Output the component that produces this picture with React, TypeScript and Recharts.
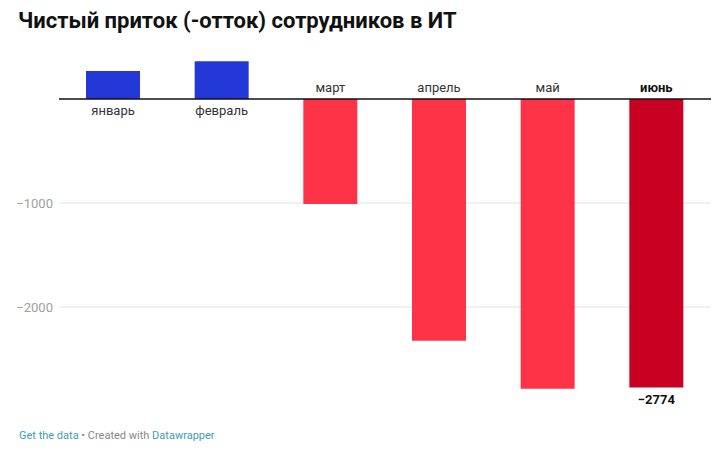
import { BarChart, Bar, XAxis, YAxis, CartesianGrid, ReferenceLine, LabelList, Cell } from 'recharts';

const months = ['январь', 'февраль', 'март', 'апрель', 'май', 'июнь'];
const netFlow = [270, 362, -1010, -2324, -2786, -2774];
const barColors = ['#2438d8', '#2438d8', '#ff3347', '#ff3347', '#ff3347', '#c80022'];
const yTicks = [-2000, -1000];
const highlightIndex = 5;

const data = months.map((month, i) => ({ month, value: netFlow[i] }));

const fmt = (v: number) => (v < 0 ? '\u2212' + Math.abs(v) : String(v));

// month name sits on the opposite side of the zero line from the bar
function MonthLabel(props: any) {
  const { x, y, width, height, value, index } = props;
  const top = Math.min(y, y + height);
  const bottom = Math.max(y, y + height);
  const zeroY = value >= 0 ? bottom : top;
  const ty = value >= 0 ? zeroY + 16 : zeroY - 7;
  const bold = index === highlightIndex;
  return (
    <text
      x={x + width / 2}
      y={ty}
      textAnchor="middle"
      fontFamily="Roboto, sans-serif"
      fontSize={13}
      fontWeight={bold ? 700 : 400}
      fill={bold ? '#111' : '#333'}
    >
      {months[index]}
    </text>
  );
}

function ValueLabel(props: any) {
  const { x, y, width, height, value, index } = props;
  if (index !== highlightIndex) return null;
  const bottom = Math.max(y, y + height);
  return (
    <text
      x={x + width / 2}
      y={bottom + 17}
      textAnchor="middle"
      fontFamily="Roboto, sans-serif"
      fontSize={13}
      fontWeight={700}
      fill="#111"
    >
      {fmt(value)}
    </text>
  );
}

export default function App() {
  return (
    <div style={{ position: 'absolute', left: 0, top: 0, width: 720, height: 460, background: '#fff' }}>
      <BarChart
        width={720}
        height={460}
        data={data}
        margin={{ top: 47, right: 9, left: 9, bottom: 49 }}
      >
        <CartesianGrid vertical={false} stroke="#e2e2e2" horizontalValues={yTicks} />
        <XAxis dataKey="month" hide />
        <YAxis
          width={50}
          domain={[-3000, 500]}
          ticks={yTicks}
          axisLine={false}
          tickLine={false}
          tickMargin={0}
          tickFormatter={fmt}
          tick={{ fill: '#a0a0a0', fontSize: 13, fontFamily: 'Roboto, sans-serif' }}
        />
        <Bar dataKey="value" barSize={54} isAnimationActive={false}>
          {data.map((d, i) => (
            <Cell key={d.month} fill={barColors[i]} />
          ))}
          <LabelList dataKey="value" content={MonthLabel} />
          <LabelList dataKey="value" content={ValueLabel} />
        </Bar>
        <ReferenceLine y={0} stroke="#111" strokeWidth={1.5} />
      </BarChart>
      <svg
        width={720}
        height={460}
        style={{ position: 'absolute', left: 0, top: 0, pointerEvents: 'none' }}
      >
        <text x={18} y={28} fontFamily="Roboto, sans-serif" fontSize={22} fontWeight={700} fill="#111">
          Чистый приток (-отток) сотрудников в ИТ
        </text>
        <text x={19} y={439} fontFamily="Roboto, sans-serif" fontSize={11} fill="#888">
          <tspan fill="#3e9db3">Get the data</tspan>
          <tspan> • Created with </tspan>
          <tspan fill="#3e9db3">Datawrapper</tspan>
        </text>
      </svg>
    </div>
  );
}
